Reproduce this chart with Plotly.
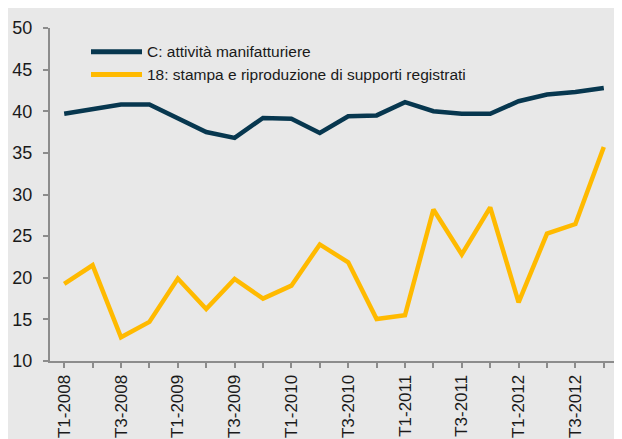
import plotly.graph_objects as go

quarters = [f"T{q}-{y}" for y in range(2008, 2013) for q in range(1, 5)]
tick_labels = [c if i % 2 == 0 else "" for i, c in enumerate(quarters)]

manifattura = [39.7, 40.2, 40.8, 40.8, 39.15, 37.5, 36.8, 39.2, 39.1, 37.4,
               39.4, 39.5, 41.1, 40.0, 39.7, 39.7, 41.2, 42.0, 42.3, 42.8]
stampa = [19.25, 21.5, 12.85, 14.7, 19.9, 16.25, 19.85, 17.5, 19.05, 24.0,
          21.85, 15.05, 15.5, 28.2, 22.8, 28.45, 17.05, 25.3, 26.45, 35.7]

names = ["C: attività manifatturiere", "18: stampa e riproduzione di supporti registrati"]
colors = ["#07374f", "#FFBA00"]

# page has an 8px body margin: figure coordinates = window coordinates - 8
OFF = 8
W, H = 611, 431
L, R, T, B = 42, 1, 20, 78
pw, ph = W - L - R, H - T - B

def px_x(p):
    return (p - OFF - L) / pw

def px_y(p):
    return (H - B - (p - OFF)) / ph

fig = go.Figure()
for name, vals, col in zip(names, [manifattura, stampa], colors):
    fig.add_trace(go.Scatter(x=quarters, y=vals, mode="lines", name=name,
                             line=dict(color=col, width=4.5), showlegend=False))

bg = "#e8e8e8"
shapes = []
annotations = []
for i, (name, col) in enumerate(zip(names, colors)):
    yy = px_y(51.7 + i * 22.8)
    shapes.append(dict(type="line", xref="paper", yref="paper", x0=px_x(91), x1=px_x(142),
                       y0=yy, y1=yy, line=dict(color=col, width=5)))
    annotations.append(dict(xref="paper", yref="paper", x=px_x(145), y=yy, text=name,
                            showarrow=False, xanchor="left", yanchor="middle",
                            font=dict(size=15.5, color="#1a1a1a")))

axis_col = "#8c8c8c"
fig.update_layout(
    width=W, height=H,
    margin=dict(l=L, r=R, t=T, b=B),
    paper_bgcolor=bg, plot_bgcolor=bg,
    font=dict(family="Liberation Sans, Arial, sans-serif", color="#1a1a1a", size=17),
    shapes=shapes, annotations=annotations,
    xaxis=dict(type="category", range=[-0.5, 19.5], tickmode="array", tickvals=quarters,
               ticktext=tick_labels, tickangle=-90, showgrid=False, zeroline=False,
               showline=True, linecolor=axis_col, linewidth=2, ticks="outside",
               ticklen=5, tickcolor=axis_col, tickwidth=1.5, tickfont=dict(size=17),
               automargin=False),
    yaxis=dict(range=[10, 50], dtick=5, showgrid=False, zeroline=False, showline=True,
               linecolor=axis_col, linewidth=2, ticks="outside", ticklen=5,
               tickcolor=axis_col, tickwidth=1.5, tickfont=dict(size=18),
               ticklabelstandoff=7, automargin=False),
)

fig.write_html("out.html")
